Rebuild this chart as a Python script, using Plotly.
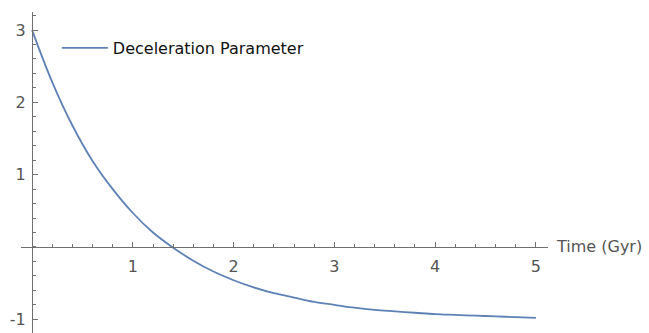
import plotly.graph_objects as go

# Deceleration parameter q(t) sampled every 0.2 Gyr
time_gyr = [0.0, 0.2, 0.4, 0.6, 0.8, 1.0, 1.2, 1.4, 1.6, 1.8, 2.0, 2.2, 2.4,
            2.6, 2.8, 3.0, 3.2, 3.4, 3.6, 3.8, 4.0, 4.2, 4.4, 4.6, 4.8, 5.0]
q_values = [3.00, 2.28, 1.68, 1.19, 0.80, 0.47, 0.20, -0.01, -0.19, -0.34,
            -0.46, -0.56, -0.64, -0.70, -0.76, -0.80, -0.84, -0.87, -0.89,
            -0.91, -0.93, -0.94, -0.95, -0.96, -0.97, -0.98]

x_ticks = [1, 2, 3, 4, 5]
y_ticks = [-1, 1, 2, 3]
y_tick_text = ["-1", "1", "2", "3"]
series_name = "Deceleration Parameter"
x_title = "Time (Gyr)"

x_range = [-0.11, 5.12]
y_range = [-1.19, 3.25]

axis_color = "#707070"
label_color = "#555555"
line_color = "#5E81B5"

fig = go.Figure()
fig.add_trace(go.Scatter(
    x=time_gyr, y=q_values, mode="lines", name=series_name,
    line=dict(color=line_color, width=1.8, shape="spline"),
    showlegend=True,
))

# axes cross at the origin, Mathematica style
x_pos = (0 - y_range[0]) / (y_range[1] - y_range[0])
y_pos = (0 - x_range[0]) / (x_range[1] - x_range[0])

fig.update_layout(
    width=649, height=333,
    margin=dict(l=21, r=101, t=12, b=0),
    paper_bgcolor="white", plot_bgcolor="white",
    font=dict(family="DejaVu Sans", size=15, color=label_color),
    showlegend=True,
    legend=dict(
        x=0.068, y=0.941, xanchor="left", yanchor="top",
        bgcolor="rgba(0,0,0,0)", borderwidth=0,
        font=dict(family="DejaVu Sans", size=16, color="#111111"),
        itemwidth=46,
    ),
    xaxis=dict(
        range=x_range, anchor="free", position=x_pos,
        showgrid=False, zeroline=False,
        showline=True, linecolor=axis_color, linewidth=1.3,
        tickmode="array", tickvals=x_ticks,
        ticks="inside", ticklen=5, tickwidth=1.3, tickcolor=axis_color,
        tickfont=dict(family="DejaVu Sans", size=16, color=label_color),
        ticklabelstandoff=5,
        minor=dict(tickmode="linear", tick0=0, dtick=0.2, ticks="inside",
                   ticklen=3, tickwidth=1.1, tickcolor=axis_color),
        automargin=False, fixedrange=True,
    ),
    yaxis=dict(
        range=y_range, anchor="free", position=y_pos,
        showgrid=False, zeroline=False,
        showline=True, linecolor=axis_color, linewidth=1.3,
        tickmode="array", tickvals=y_ticks, ticktext=y_tick_text,
        ticks="inside", ticklen=5, tickwidth=1.3, tickcolor=axis_color,
        tickfont=dict(family="DejaVu Sans", size=16, color=label_color),
        ticklabelstandoff=3,
        minor=dict(tickmode="linear", tick0=0, dtick=0.2, ticks="inside",
                   ticklen=3, tickwidth=1.1, tickcolor=axis_color),
        automargin=False, fixedrange=True,
    ),
    annotations=[dict(
        text=x_title, xref="paper", x=1, xanchor="left", xshift=6,
        yref="y", y=0, yanchor="middle", showarrow=False,
        font=dict(family="DejaVu Sans", size=16, color=label_color),
    )],
)

fig.write_html("out.html")
